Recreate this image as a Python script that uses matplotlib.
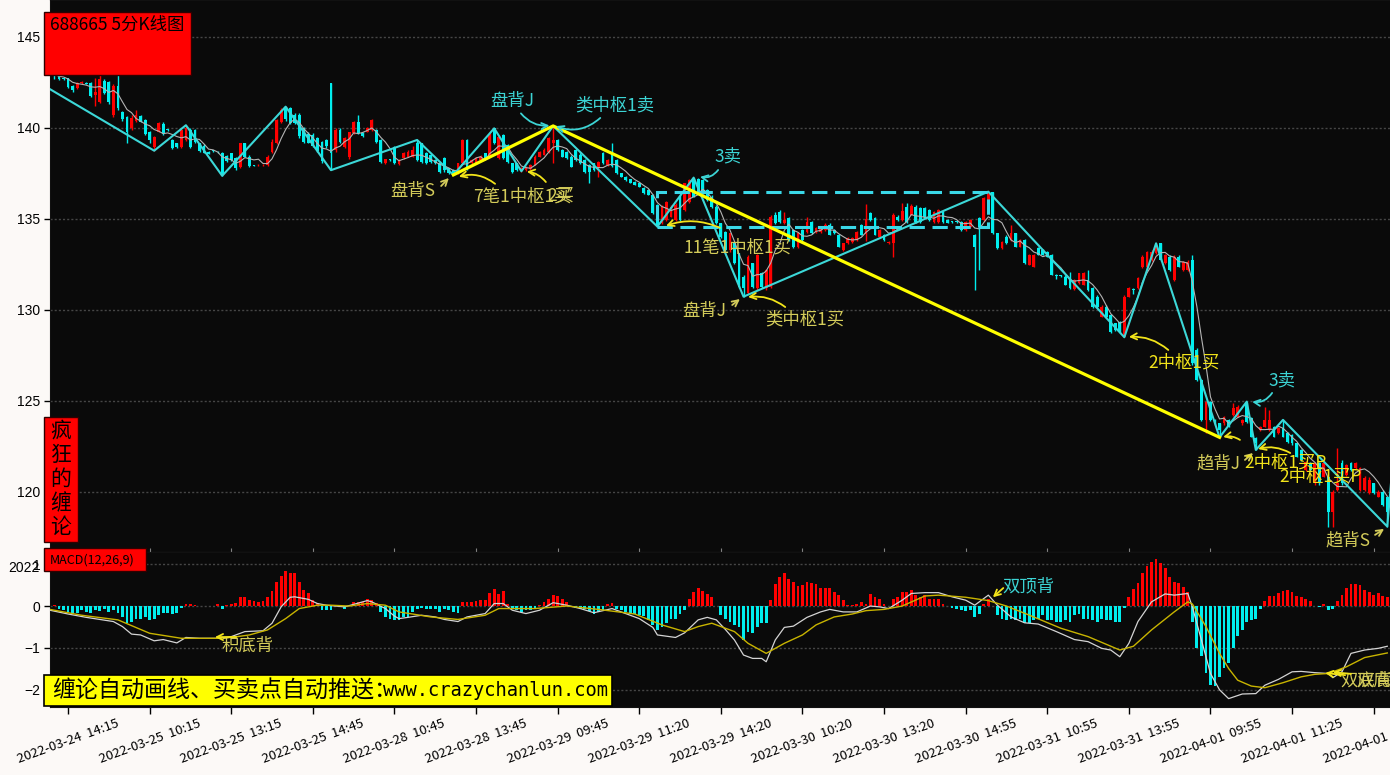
import numpy as np
import matplotlib
matplotlib.use('Agg')
import matplotlib.pyplot as plt
from matplotlib.patches import Rectangle

plt.rcParams['font.family'] = ['Noto Sans CJK SC', 'DejaVu Sans']

# ---- 5-min bars (index 0 = 2022-03-24 13:55) ----
opens = [
    143.30, 143.00, 142.92, 142.70, 142.73, 142.31, 142.18, 142.45, 142.47, 142.46,
    141.82, 141.40, 142.60, 142.55, 140.72, 142.31, 140.90, 140.59, 140.00, 140.39,
    140.66, 140.44, 139.80, 138.94, 139.80, 140.22, 139.92, 139.34, 139.16, 138.94,
    139.34, 139.90, 139.90, 139.16, 139.02, 138.70, 138.78, 138.70, 138.65, 138.47,
    138.61, 138.34, 137.84, 139.16, 138.43, 137.95, 137.95, 137.95, 137.95, 138.70,
    139.20, 140.30, 141.17, 141.10, 140.72, 140.72, 139.99, 139.67, 139.62, 139.44,
    139.25, 139.34, 142.47, 138.80, 139.90, 138.94, 138.39, 139.71, 140.35, 139.71,
    139.80, 139.90, 139.90, 139.34, 138.06, 138.28, 138.98, 138.02, 138.33, 138.43,
    138.43, 139.20, 139.16, 138.61, 138.52, 138.24, 138.06, 138.33, 137.78, 137.69,
    137.51, 138.06, 139.34, 138.06, 138.06, 138.24, 138.61, 138.43, 139.98, 138.33,
    139.62, 139.07, 138.06, 138.06, 137.62, 137.69, 137.75, 137.97, 138.43, 138.52,
    138.70, 139.16, 139.34, 138.79, 138.70, 138.43, 138.79, 138.52, 138.24, 137.97,
    138.06, 137.78, 138.61, 137.97, 138.60, 138.24, 137.51, 137.30, 137.18, 137.05,
    136.96, 136.69, 136.59, 136.32, 135.77, 134.76, 134.95, 135.13, 134.95, 136.23,
    135.50, 135.95, 137.23, 137.20, 137.14, 136.59, 136.23, 135.68, 134.76, 134.31,
    133.30, 133.66, 133.11, 131.80, 130.92, 132.56, 131.19, 132.02, 131.19, 131.28,
    135.22, 135.40, 134.76, 135.04, 134.40, 133.48, 134.40, 134.31, 134.85, 134.31,
    134.31, 134.40, 134.67, 134.40, 134.12, 133.30, 133.66, 133.76, 133.85, 134.67,
    134.20, 135.31, 135.04, 134.03, 134.12, 133.66, 133.66, 135.13, 134.95, 135.68,
    135.22, 135.68, 135.59, 135.59, 135.50, 134.85, 134.85, 135.40, 134.95, 134.87,
    134.85, 134.85, 134.40, 134.58, 134.12, 135.04, 134.95, 135.77, 136.50, 134.21,
    133.39, 134.03, 133.85, 134.21, 133.48, 133.85, 132.47, 132.38, 133.39, 133.30,
    133.20, 133.00, 131.92, 131.90, 131.83, 131.65, 131.14, 131.47, 131.37, 131.65,
    131.19, 130.73, 129.63, 130.18, 129.73, 129.27, 129.36, 128.54, 130.73, 131.12,
    131.19, 132.38, 132.38, 132.75, 133.11, 133.66, 132.57, 132.93, 131.65, 132.93,
    132.20, 132.20, 132.75, 127.80, 126.15, 123.96, 124.96, 123.96, 123.77, 123.77,
    123.96, 124.23, 124.14, 123.77, 124.96, 124.05, 122.95, 123.41, 123.59, 123.41,
    123.59, 123.22, 123.50, 123.22, 123.13, 122.67, 122.31, 121.21, 121.58, 120.48,
    121.58, 120.84, 120.84, 118.92, 120.11, 121.58, 120.93, 121.58, 121.30, 120.11,
    120.11, 119.93, 120.48, 119.74, 120.02, 119.74,
]
highs = [
    143.60, 143.20, 142.95, 142.72, 142.75, 142.37, 142.55, 142.60, 142.50, 142.50,
    142.73, 142.92, 142.70, 142.60, 142.40, 142.92, 140.95, 140.65, 140.70, 141.00,
    140.70, 140.50, 139.85, 139.55, 140.30, 140.30, 139.95, 139.40, 139.20, 139.95,
    140.15, 140.00, 139.95, 139.20, 139.10, 138.75, 138.80, 138.75, 138.70, 138.50,
    138.65, 138.40, 139.20, 139.20, 138.50, 137.98, 138.00, 138.00, 138.50, 139.40,
    140.50, 141.10, 141.17, 141.15, 140.80, 140.80, 140.05, 139.75, 139.70, 139.50,
    139.30, 139.40, 142.47, 140.00, 140.00, 139.50, 139.80, 140.40, 140.70, 139.75,
    140.05, 140.50, 139.95, 139.40, 138.30, 138.30, 139.00, 138.30, 138.70, 138.80,
    139.00, 139.34, 139.20, 138.70, 138.55, 138.30, 138.10, 138.40, 137.80, 137.75,
    138.10, 139.40, 139.40, 138.30, 138.40, 138.50, 138.65, 139.70, 139.98, 139.60,
    139.65, 139.10, 138.10, 138.10, 137.85, 137.90, 138.00, 138.50, 138.75, 138.90,
    139.50, 140.11, 139.40, 138.85, 138.75, 138.50, 138.85, 138.60, 138.30, 138.00,
    138.10, 138.20, 138.70, 138.30, 139.16, 138.30, 137.55, 137.35, 137.20, 137.10,
    137.00, 136.75, 136.65, 136.35, 135.80, 135.75, 136.00, 135.75, 135.85, 136.30,
    137.00, 137.20, 137.27, 137.25, 137.20, 136.65, 136.30, 135.75, 134.80, 134.35,
    134.25, 133.70, 133.15, 131.90, 133.00, 132.60, 133.10, 132.10, 132.25, 135.20,
    135.40, 135.50, 135.40, 135.10, 134.45, 134.30, 134.45, 135.10, 134.90, 134.55,
    134.50, 134.80, 134.75, 134.45, 134.15, 133.70, 134.00, 134.00, 134.35, 134.70,
    135.80, 135.40, 135.10, 134.45, 134.15, 133.80, 135.30, 135.20, 135.85, 135.85,
    135.80, 135.75, 135.65, 135.65, 135.55, 135.45, 135.55, 135.45, 135.00, 134.90,
    134.88, 134.90, 134.90, 135.00, 134.20, 135.10, 136.20, 136.50, 136.50, 134.25,
    133.80, 134.10, 134.67, 134.25, 133.90, 133.90, 133.05, 133.05, 133.45, 133.35,
    133.25, 133.05, 131.95, 131.92, 131.90, 132.10, 131.70, 132.05, 132.10, 132.20,
    131.25, 130.80, 130.25, 130.25, 129.80, 129.30, 129.40, 130.80, 131.25, 131.20,
    131.80, 133.00, 133.25, 133.30, 133.66, 133.66, 133.05, 133.00, 133.00, 133.00,
    132.70, 132.75, 133.02, 127.90, 126.20, 125.00, 125.00, 124.00, 123.80, 124.20,
    124.00, 124.90, 124.75, 124.00, 124.96, 124.10, 123.00, 123.65, 124.69, 124.50,
    123.65, 123.55, 123.96, 123.30, 123.20, 122.70, 122.35, 121.70, 121.65, 121.65,
    121.65, 121.65, 120.90, 120.10, 122.40, 121.76, 121.55, 121.65, 121.65, 121.35,
    120.90, 120.80, 120.50, 120.10, 120.10, 119.80,
]
lows = [
    142.90, 142.70, 142.65, 142.66, 142.20, 142.00, 142.15, 142.42, 142.40, 141.70,
    141.18, 141.35, 141.85, 141.30, 140.60, 141.00, 140.40, 139.16, 139.90, 140.35,
    140.30, 139.60, 139.16, 138.75, 139.75, 139.60, 139.85, 138.85, 138.90, 138.90,
    139.30, 138.90, 139.20, 138.70, 138.60, 138.55, 138.70, 138.60, 137.37, 138.15,
    138.20, 137.70, 137.80, 138.40, 137.85, 137.90, 137.93, 137.93, 137.90, 138.65,
    139.10, 140.25, 140.40, 140.20, 140.20, 139.45, 139.20, 139.15, 138.95, 138.70,
    138.10, 138.90, 137.68, 138.70, 139.20, 138.90, 138.30, 139.65, 139.65, 139.50,
    139.75, 139.85, 139.20, 138.10, 138.00, 138.20, 138.00, 137.95, 138.30, 138.40,
    138.40, 138.20, 138.10, 138.00, 138.10, 138.00, 137.55, 137.60, 137.45, 137.42,
    137.45, 138.00, 137.70, 138.00, 138.00, 138.20, 138.30, 138.40, 139.10, 138.30,
    138.30, 138.10, 137.55, 137.65, 137.60, 137.65, 137.70, 137.95, 138.40, 138.50,
    138.65, 138.06, 138.75, 138.40, 138.30, 137.85, 138.20, 138.00, 137.55, 136.96,
    137.65, 137.33, 138.00, 137.90, 137.85, 137.45, 137.30, 137.10, 136.95, 136.85,
    136.75, 136.35, 136.30, 135.25, 134.58, 134.70, 134.90, 135.10, 134.90, 134.90,
    135.45, 135.90, 136.20, 136.35, 136.35, 136.00, 135.60, 134.70, 133.95, 133.25,
    133.20, 132.50, 131.20, 130.73, 130.85, 131.20, 131.10, 131.20, 131.10, 131.20,
    134.70, 134.80, 134.70, 133.80, 133.40, 133.40, 133.80, 134.25, 134.15, 134.25,
    134.25, 134.35, 134.10, 134.15, 133.45, 133.25, 133.60, 133.70, 133.80, 134.10,
    133.80, 134.90, 134.10, 134.00, 133.80, 133.60, 132.93, 134.90, 134.90, 134.80,
    135.20, 134.80, 134.80, 135.10, 134.90, 134.80, 134.80, 134.80, 134.75, 134.80,
    134.80, 134.35, 134.35, 134.50, 131.10, 132.20, 134.90, 135.70, 134.15, 133.35,
    133.35, 133.60, 133.80, 133.45, 133.45, 132.50, 132.45, 132.35, 133.00, 133.00,
    132.90, 131.90, 131.70, 131.82, 131.35, 131.15, 131.10, 131.45, 131.35, 131.05,
    130.10, 130.10, 129.60, 129.55, 128.75, 128.85, 128.75, 128.50, 130.70, 130.90,
    131.15, 132.30, 132.30, 132.70, 133.05, 132.70, 132.50, 132.15, 131.60, 132.35,
    132.15, 132.15, 127.00, 126.10, 123.90, 123.22, 123.90, 123.70, 123.00, 123.70,
    123.55, 124.20, 124.10, 123.70, 123.80, 123.00, 122.31, 123.35, 123.55, 123.35,
    123.00, 123.20, 123.00, 122.70, 122.60, 121.90, 121.70, 121.15, 121.15, 120.40,
    120.40, 120.80, 118.10, 118.10, 120.05, 120.40, 120.90, 121.15, 121.25, 120.05,
    120.05, 119.90, 119.90, 119.70, 119.25, 118.10,
]
closes = [
    143.00, 142.85, 142.68, 142.68, 142.24, 142.10, 142.49, 142.50, 142.44, 141.76,
    142.00, 142.68, 141.91, 141.40, 142.31, 141.08, 140.48, 139.80, 140.53, 140.72,
    140.35, 139.67, 139.34, 139.49, 140.26, 139.67, 139.88, 138.89, 138.94, 139.90,
    139.99, 138.94, 139.25, 138.76, 138.65, 138.58, 138.74, 138.66, 137.42, 138.21,
    138.25, 137.79, 139.16, 138.43, 137.92, 137.92, 137.98, 137.99, 138.39, 139.25,
    140.44, 141.00, 140.48, 140.26, 140.26, 139.53, 139.25, 139.20, 139.02, 138.76,
    138.21, 139.02, 138.60, 139.90, 139.25, 139.44, 139.75, 140.30, 139.71, 139.56,
    139.99, 140.44, 139.25, 138.15, 138.28, 138.25, 138.06, 138.24, 138.61, 138.70,
    138.79, 138.24, 138.15, 138.06, 138.15, 138.06, 137.60, 137.69, 137.51, 137.45,
    138.06, 139.34, 137.78, 138.24, 138.33, 138.43, 138.33, 139.62, 139.16, 139.52,
    138.33, 138.15, 137.60, 137.69, 137.78, 137.88, 137.97, 138.43, 138.70, 138.79,
    139.43, 139.34, 138.79, 138.43, 138.33, 137.88, 138.24, 138.06, 137.60, 137.60,
    137.69, 138.15, 138.06, 138.24, 137.90, 137.51, 137.33, 137.12, 137.00, 136.87,
    136.78, 136.41, 136.32, 135.31, 134.67, 135.68, 135.95, 135.68, 135.77, 134.95,
    136.96, 137.14, 136.23, 136.41, 136.41, 136.04, 135.68, 134.76, 134.03, 133.30,
    134.21, 132.56, 131.28, 131.20, 132.93, 131.28, 133.02, 131.28, 132.20, 135.13,
    134.76, 134.85, 134.95, 133.85, 133.48, 134.21, 133.85, 134.85, 134.21, 134.49,
    134.45, 134.67, 134.12, 134.21, 133.48, 133.66, 133.94, 133.94, 134.31, 134.12,
    135.00, 134.95, 134.12, 134.40, 133.85, 133.76, 135.22, 134.95, 135.46, 134.85,
    135.72, 134.85, 134.85, 135.13, 134.95, 135.40, 135.50, 134.85, 134.80, 134.83,
    134.83, 134.40, 134.85, 134.95, 133.48, 134.58, 136.14, 136.45, 134.21, 133.39,
    133.76, 133.66, 134.21, 133.48, 133.85, 132.56, 133.02, 133.02, 133.02, 133.02,
    132.93, 131.92, 131.86, 131.85, 131.37, 131.19, 131.65, 132.02, 132.02, 131.10,
    130.18, 130.18, 130.18, 129.63, 128.81, 128.90, 128.81, 130.73, 131.19, 131.10,
    131.74, 132.93, 133.21, 133.21, 133.62, 132.75, 133.02, 132.20, 132.93, 132.38,
    132.66, 132.66, 127.07, 126.15, 123.96, 124.96, 123.96, 123.77, 123.41, 124.14,
    123.59, 124.60, 124.69, 123.96, 123.86, 123.04, 122.67, 123.59, 123.96, 123.96,
    123.04, 123.50, 123.04, 122.77, 122.67, 121.94, 121.76, 121.67, 121.21, 121.58,
    120.48, 121.58, 118.92, 120.02, 120.48, 120.48, 121.49, 121.21, 121.58, 121.30,
    120.75, 120.66, 119.93, 120.02, 119.29, 118.90,
]

# bi (stroke) turning points and the yellow segment
bi_idx = [-1, 23, 30, 38, 52, 62, 81, 89, 98, 104, 111, 134, 142, 153, 207,
          237, 244, 258, 264, 266, 272, 295, 296]
bi_price = [142.28, 138.75, 140.15, 137.37, 141.17, 137.68, 139.34, 137.42, 139.98,
            137.62, 140.11, 134.58, 137.27, 130.73, 136.50, 128.50, 133.66, 123.00,
            124.96, 122.31, 123.96, 118.10, 121.00]
seg_idx = [89, 111, 258]
seg_price = [137.42, 140.11, 123.00]

# central pivot (zhongshu) box
zs_start, zs_end = 134, 207
zs_low, zs_high = 134.58, 136.50

# MACD histogram, one value per bar
macd_hist = [
    0.0, 0.02, -0.06, -0.1, -0.14, -0.16, -0.16, -0.1, -0.14, -0.16,
    -0.1, -0.11, -0.06, -0.14, -0.1, -0.16, -0.27, -0.4, -0.37, -0.32,
    -0.3, -0.27, -0.33, -0.32, -0.22, -0.16, -0.16, -0.19, -0.16, -0.04,
    0.06, 0.04, 0.02, 0.01, 0.0, 0.0, 0.01, 0.05, -0.08, 0.03,
    0.05, 0.08, 0.21, 0.22, 0.14, 0.12, 0.1, 0.13, 0.22, 0.36,
    0.58, 0.72, 0.84, 0.8, 0.78, 0.58, 0.38, 0.3, 0.14, 0.08,
    -0.1, -0.1, -0.1, 0.0, 0.02, -0.08, 0.0, 0.1, 0.1, 0.1,
    0.16, 0.14, 0.08, -0.14, -0.26, -0.3, -0.34, -0.34, -0.26, -0.26,
    -0.14, -0.08, -0.04, -0.06, -0.08, -0.06, -0.14, -0.08, -0.1, -0.14,
    -0.16, 0.1, 0.1, 0.1, 0.13, 0.14, 0.14, 0.3, 0.4, 0.29,
    0.36, 0.06, -0.06, -0.1, -0.14, -0.1, -0.1, -0.06, 0.02, 0.1,
    0.18, 0.26, 0.24, 0.18, 0.1, 0.0, -0.04, -0.06, -0.08, -0.11,
    -0.18, -0.14, -0.1, 0.05, 0.08, -0.06, -0.1, -0.14, -0.18, -0.18,
    -0.22, -0.24, -0.33, -0.45, -0.57, -0.49, -0.41, -0.3, -0.3, -0.19,
    -0.1, 0.16, 0.33, 0.42, 0.36, 0.29, 0.21, 0.01, -0.22, -0.3,
    -0.37, -0.45, -0.51, -0.81, -0.61, -0.65, -0.51, -0.4, -0.4, 0.14,
    0.53, 0.7, 0.78, 0.64, 0.58, 0.48, 0.5, 0.58, 0.54, 0.53,
    0.42, 0.42, 0.42, 0.33, 0.26, 0.14, 0.02, 0.02, 0.06, 0.1,
    0.06, 0.29, 0.21, 0.16, 0.06, 0.01, 0.16, 0.21, 0.34, 0.34,
    0.38, 0.26, 0.22, 0.26, 0.16, 0.16, 0.16, 0.06, 0.0, -0.04,
    -0.06, -0.1, -0.11, -0.1, -0.27, -0.18, 0.04, 0.18, 0.0, -0.22,
    -0.3, -0.33, -0.3, -0.33, -0.31, -0.4, -0.4, -0.33, -0.3, -0.22,
    -0.33, -0.33, -0.37, -0.37, -0.33, -0.37, -0.22, -0.19, -0.3, -0.3,
    -0.33, -0.37, -0.3, -0.33, -0.33, -0.37, -0.37, -0.04, 0.21, 0.4,
    0.56, 0.78, 0.96, 1.04, 1.12, 1.02, 0.9, 0.69, 0.58, 0.54,
    0.46, 0.34, -0.37, -0.99, -1.2, -1.59, -1.88, -1.91, -1.69, -1.49,
    -1.36, -1.0, -0.72, -0.56, -0.37, -0.33, -0.3, -0.08, 0.12, 0.24,
    0.24, 0.32, 0.37, 0.38, 0.34, 0.24, 0.22, 0.16, 0.12, 0.0,
    -0.02, 0.04, -0.1, -0.06, 0.13, 0.26, 0.42, 0.53, 0.53, 0.5,
    0.38, 0.34, 0.26, 0.3, 0.24, 0.22,
]

# DIF / DEA read at sample bars
dif_idx = [0, 4, 8, 11, 14, 16, 18, 20, 23, 25, 28, 30, 33, 37, 40, 43, 47, 49, 51, 53,
           54, 57, 59, 61, 63, 65, 67, 70, 71, 74, 76, 77, 79, 82, 85, 87, 90, 92, 96, 98,
           100, 102, 105, 108, 111, 114, 117, 120, 122, 124, 127, 130, 133, 134, 136, 138,
           140, 143, 145, 147, 149, 151, 153, 155, 157, 158, 160, 162, 164, 167, 170, 172,
           175, 178, 181, 183, 185, 188, 190, 193, 196, 199, 202, 204, 207, 209, 212, 215,
           218, 222, 226, 229, 232, 234, 236, 238, 240, 243, 246, 248, 251, 252, 254, 256,
           258, 260, 263, 266, 268, 271, 274, 276, 279, 282, 283, 285, 287, 290, 293, 295]
dif_val = [-0.10, -0.19, -0.27, -0.32, -0.37, -0.49, -0.67, -0.69, -0.83, -0.80, -0.88,
           -0.75, -0.77, -0.77, -0.73, -0.61, -0.59, -0.41, -0.02, 0.21, 0.22, 0.16, 0.06,
           0.02, 0.0, -0.02, 0.04, 0.13, 0.10, -0.06, -0.24, -0.30, -0.27, -0.22, -0.26,
           -0.32, -0.37, -0.26, -0.18, 0.06, 0.06, -0.10, -0.18, -0.10, 0.08, 0.02, -0.06,
           -0.16, -0.11, -0.06, -0.18, -0.30, -0.51, -0.69, -0.72, -0.75, -0.64, -0.33,
           -0.27, -0.33, -0.56, -0.81, -1.17, -1.25, -1.25, -1.33, -0.81, -0.51, -0.48,
           -0.27, -0.14, -0.08, -0.14, -0.14, 0.0, -0.02, -0.06, 0.14, 0.30, 0.32, 0.32,
           0.22, 0.14, 0.02, 0.26, 0.02, -0.26, -0.40, -0.43, -0.61, -0.80, -0.85, -1.01,
           -1.05, -1.21, -0.89, -0.37, 0.10, 0.29, 0.26, 0.30, -0.02, -0.81, -1.61, -2.00,
           -2.21, -2.10, -2.09, -1.89, -1.75, -1.57, -1.56, -1.59, -1.61, -1.71, -1.57,
           -1.13, -1.05, -1.01, -0.96]
dea_idx = [0, 7, 15, 22, 29, 37, 40, 44, 48, 52, 55, 59, 62, 66, 70, 74, 77, 84, 90, 96,
           99, 107, 114, 121, 129, 135, 140, 143, 146, 151, 154, 158, 162, 166, 169, 173,
           177, 180, 184, 188, 193, 196, 202, 207, 211, 217, 223, 229, 236, 239, 243, 248,
           251, 252, 255, 258, 260, 262, 265, 268, 272, 276, 279, 282, 286, 290, 295]
dea_val = [-0.08, -0.22, -0.33, -0.65, -0.77, -0.77, -0.75, -0.69, -0.57, -0.30, -0.06,
           0.02, 0.02, 0.0, 0.06, 0.02, -0.14, -0.26, -0.32, -0.22, -0.06, -0.06, 0.0,
           -0.08, -0.19, -0.45, -0.61, -0.49, -0.41, -0.61, -0.89, -1.13, -0.89, -0.69,
           -0.45, -0.26, -0.19, -0.11, -0.08, 0.0, 0.24, 0.26, 0.21, 0.13, 0.0, -0.26,
           -0.53, -0.73, -1.05, -0.96, -0.57, -0.14, 0.10, 0.05, -0.49, -1.13, -1.49,
           -1.77, -1.91, -1.95, -1.83, -1.69, -1.63, -1.61, -1.45, -1.23, -1.12]

tick_idx = [4, 22, 40, 58, 76, 94, 112, 130, 148, 166, 184, 202, 220, 238, 256, 274, 292]
tick_labels = ['2022-03-24  14:15', '2022-03-25  10:15', '2022-03-25  13:15',
               '2022-03-25  14:45', '2022-03-28  10:45', '2022-03-28  13:45',
               '2022-03-29  09:45', '2022-03-29  11:20', '2022-03-29  14:20',
               '2022-03-30  10:20', '2022-03-30  13:20', '2022-03-30  14:55',
               '2022-03-31  10:55', '2022-03-31  13:55', '2022-04-01  09:55',
               '2022-04-01  11:25', '2022-04-01  14:25']

RED = '#ff0000'
CYAN = '#00eeee'
BI = '#3cd8d8'
KHAKI = '#d4cc5a'
YEL = '#f2e41a'
TCYAN = '#3cd4d4'
BG = '#0a0a0a'
W, H = 1390, 775


def fx(px):
    return px / W


def fy(py):
    return 1 - py / H


fig = plt.figure(figsize=(13.9, 7.75), dpi=100, facecolor='#fcf9f7')
ax1 = fig.add_axes([fx(50), fy(552), fx(1340), 552 / H])
ax2 = fig.add_axes([fx(50), fy(707), fx(1340), 155 / H])

for ax in (ax1, ax2):
    ax.set_facecolor(BG)
    ax.set_xlim(0.02, 295.6)
    for s in ax.spines.values():
        s.set_color('#111111')
    ax.grid(axis='y', color='#464646', linestyle=(0, (1.5, 1.5)), lw=1)
    ax.set_axisbelow(True)
    ax.tick_params(axis='y', length=4, width=1, color='black', pad=3,
                   labelsize=10, labelcolor='black')

# ---- price panel ----
o = np.array(opens)
h = np.array(highs)
l = np.array(lows)
c = np.array(closes)
idx = np.arange(len(c))
col = np.where(c >= o, RED, CYAN)
ax1.vlines(idx, l, h, colors=col, lw=1, zorder=2)
ax1.bar(idx, np.maximum(np.abs(c - o), 0.04), bottom=np.minimum(o, c), width=0.62,
        color=col, lw=0, zorder=3)
ma5 = np.convolve(c, np.ones(5) / 5, mode='full')[:len(c)]
ma5[:4] = [c[:k + 1].mean() for k in range(4)]
ax1.plot(idx, ma5, color='#b4b4b4', lw=0.8, zorder=4)

ax1.plot(bi_idx, bi_price, color=BI, lw=1.5, zorder=5)
ax1.add_patch(Rectangle((zs_start, zs_low), zs_end - zs_start, zs_high - zs_low,
                        fill=False, ec='#3ad8e8', lw=2.2, ls=(0, (5, 2.5)), zorder=5))
ax1.plot(seg_idx, seg_price, color='#ffff00', lw=2.3, zorder=6)

ax1.set_ylim(116.70, 147.03)
ax1.set_yticks([120, 125, 130, 135, 140, 145])
ax1.set_xticks(tick_idx)
ax1.tick_params(axis='x', direction='in', length=3, color='#808080', labelbottom=False)
ax1.spines['bottom'].set_color('#505050')
for t in ax1.get_yticklabels():
    t.set_fontfamily('Liberation Sans')


def note(ax, text, color, txy, tail, head, acol, rad, fs=12.5):
    ax.text(txy[0], txy[1], text, color=color, fontsize=fs, ha='center', va='center',
            zorder=8)
    ax.annotate('', xy=head, xytext=tail, zorder=8,
                arrowprops=dict(arrowstyle='->', color=acol, lw=1.3, shrinkA=0, shrinkB=0,
                                mutation_scale=11, connectionstyle='arc3,rad=%s' % rad))


note(ax1, '盘背J', TCYAN, (101.9, 141.48), (103.9, 140.80), (110.2, 140.13), TCYAN, 0.25)
note(ax1, '类中枢1卖', TCYAN, (124.7, 141.21), (121.4, 140.55), (111.6, 140.10), TCYAN, -0.3)
note(ax1, '盘背S', KHAKI, (80.1, 136.54), (86.3, 136.81), (88.0, 137.25), KHAKI, 0)
note(ax1, '7笔1中枢1买', KHAKI, (104.2, 136.21), (98.2, 136.93), (90.2, 137.32), YEL, 0.25)
note(ax1, '2买', KHAKI, (112.6, 136.30), (109.4, 137.03), (105.2, 137.60), YEL, 0.2)
note(ax1, '3卖', TCYAN, (149.6, 138.41), (147.4, 137.69), (143.4, 137.31), TCYAN, -0.3)
note(ax1, '11笔1中枢1买', KHAKI, (151.6, 133.41), (147.8, 134.51), (135.9, 134.62), YEL, 0.2)
note(ax1, '盘背J', KHAKI, (144.3, 129.95), (150.5, 130.27), (152.2, 130.60), KHAKI, 0)
note(ax1, '类中枢1买', KHAKI, (166.6, 129.45), (162.2, 130.16), (154.0, 130.71), YEL, 0.2)
note(ax1, '2中枢1买', YEL, (250.2, 127.09), (246.7, 127.80), (238.0, 128.52), YEL, 0.2)
note(ax1, '3卖', TCYAN, (271.8, 126.10), (269.6, 125.44), (265.2, 124.95), TCYAN, -0.3)
note(ax1, '趋背J', KHAKI, (257.7, 121.59), (263.6, 121.76), (265.4, 122.14), KHAKI, 0)
note(ax1, '2中枢1买P', YEL, (272.5, 121.59), (262.5, 122.86), (258.8, 123.02), YEL, 0.2)
note(ax1, '2中枢1买P', YEL, (280.2, 120.82), (273.6, 122.14), (266.5, 122.36), YEL, 0.2)
note(ax1, '趋背S', KHAKI, (286.4, 117.36), (292.3, 117.64), (294.3, 117.97), KHAKI, 0)

# ---- MACD panel ----
hist = np.array(macd_hist)
ax2.bar(idx, hist, width=0.62, color=np.where(hist >= 0, RED, CYAN), lw=0, zorder=3)
ax2.plot(dif_idx, dif_val, color='#d4d4d4', lw=0.9, zorder=4)
ax2.plot(dea_idx, dea_val, color='#c8b400', lw=1.0, zorder=4)
ax2.set_ylim(-2.41, 1.29)
ax2.set_yticks([1, 0, -1, -2])
ax2.set_xticks(tick_idx)
ax2.set_xticklabels(tick_labels, rotation=20, ha='center', fontsize=9.5)
ax2.tick_params(axis='x', length=5, width=1, color='black', pad=2)
for t in ax2.get_yticklabels():
    t.set_fontfamily('Liberation Sans')

note(ax2, '积底背', KHAKI, (43.5, -0.95), (41.1, -0.74), (36.4, -0.74), YEL, 0)
note(ax2, '双顶背', TCYAN, (215.8, 0.48), (210.3, 0.43), (208.0, 0.21), YEL, 0)
note(ax2, '双底背', KHAKI, (290.5, -1.77), (285.7, -1.65), (281.3, -1.60), YEL, 0)
note(ax2, '双底背', KHAKI, (294.0, -1.77), (287.0, -1.62), (283.0, -1.58), YEL, 0)

# ---- boxes and captions ----
fig.add_artist(Rectangle((fx(44), fy(75)), fx(147), 63 / H, transform=fig.transFigure,
                         fc=RED, ec='#300000', lw=1, zorder=20))
fig.text(fx(50), fy(25), '688665 5分K线图', fontsize=12.5, color='black', va='center',
         zorder=21)

fig.add_artist(Rectangle((fx(44), fy(542)), fx(34), 125 / H, transform=fig.transFigure,
                         fc=RED, ec='#300000', lw=1, zorder=20))
for k, ch in enumerate('疯狂的缠论'):
    fig.text(fx(61), fy(431 + 24 * k), ch, fontsize=15, color='black', ha='center',
             va='center', zorder=21)

fig.add_artist(Rectangle((fx(44), fy(571)), fx(102), 23 / H, transform=fig.transFigure,
                         fc=RED, ec='#300000', lw=1, zorder=20))
fig.text(fx(50), fy(560), 'MACD(12,26,9)', fontsize=9, color='black', va='center',
         zorder=21)

fig.add_artist(Rectangle((fx(44), fy(706)), fx(568), 31 / H, transform=fig.transFigure,
                         fc='#ffff00', ec='black', lw=1.2, zorder=20))
fig.text(fx(52), fy(691), '缠论自动画线、买卖点自动推送：', fontsize=16.6, color='black',
         va='center', zorder=21)
fig.text(fx(383), fy(691), 'www.crazychanlun.com', fontsize=13.5, family='DejaVu Sans Mono',
         color='black', va='center', zorder=21)

fig.text(fx(40), fy(568), '2022', fontsize=10, family='Liberation Sans', color='black',
         ha='right', va='center')

fig.savefig('out.png', dpi=100, facecolor=fig.get_facecolor())
